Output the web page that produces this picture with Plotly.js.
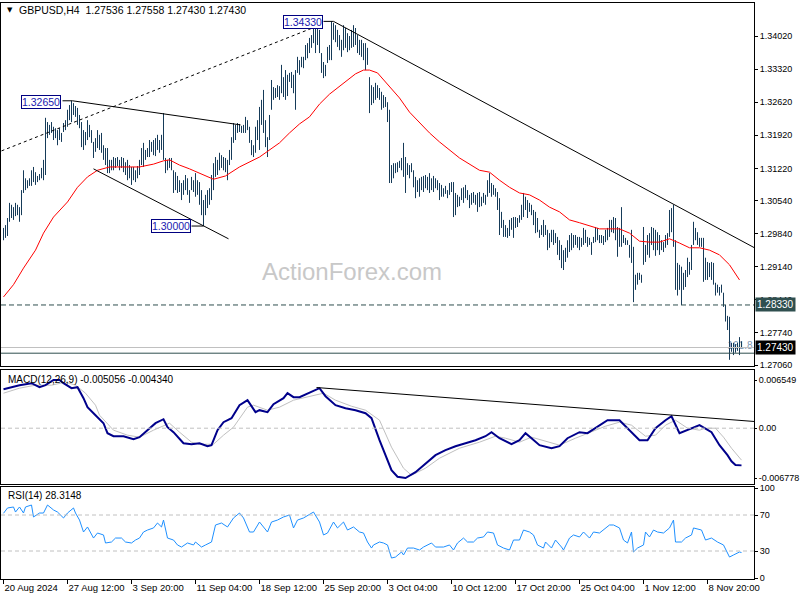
<!DOCTYPE html>
<html><head><meta charset="utf-8">
<script src="https://cdn.plot.ly/plotly-3.0.1.min.js"></script>
<style>html,body{margin:0;padding:0;background:#fff}#chart{width:800px;height:600px}</style>
</head><body><div id="chart"></div>
<script>
// ---- Price bars (H4, one per bar index) ----
const hi = [
1.2996,1.3002,1.3017,1.3049,1.3045,1.3040,1.3049,1.3045,1.3040,1.3076,
1.3118,1.3101,1.3097,1.3101,1.3118,1.3125,1.3114,1.3106,1.3110,1.3123,
1.3140,1.3229,1.3220,1.3214,1.3220,1.3210,1.3207,1.3203,1.3207,1.3197,
1.3218,1.3224,1.3246,1.3256,1.3265,1.3260,1.3254,1.3250,1.3235,1.3220,
1.3203,1.3199,1.3224,1.3214,1.3203,1.3178,1.3186,1.3203,1.3193,1.3197,
1.3171,1.3165,1.3165,1.3140,1.3140,1.3146,1.3144,1.3146,1.3140,1.3146,
1.3144,1.3135,1.3140,1.3129,1.3125,1.3125,1.3118,1.3127,1.3140,1.3165,
1.3176,1.3161,1.3165,1.3182,1.3178,1.3182,1.3186,1.3193,1.3182,1.3193,
1.3239,1.3144,1.3140,1.3144,1.3144,1.3118,1.3114,1.3106,1.3097,1.3091,
1.3097,1.3108,1.3101,1.3076,1.3104,1.3097,1.3112,1.3097,1.3093,1.3076,
1.3055,1.3066,1.3076,1.3080,1.3108,1.3133,1.3146,1.3140,1.3155,1.3150,
1.3146,1.3144,1.3140,1.3161,1.3188,1.3218,1.3214,1.3218,1.3216,1.3212,
1.3214,1.3231,1.3224,1.3210,1.3182,1.3171,1.3210,1.3224,1.3252,1.3267,
1.3288,1.3224,1.3188,1.3235,1.3309,1.3294,1.3292,1.3298,1.3296,1.3341,
1.3315,1.3330,1.3320,1.3324,1.3326,1.3320,1.3330,1.3358,1.3351,1.3358,
1.3358,1.3383,1.3387,1.3398,1.3404,1.3421,1.3425,1.3425,1.3415,1.3366,
1.3347,1.3341,1.3379,1.3383,1.3433,1.3430,1.3425,1.3415,1.3404,1.3394,
1.3425,1.3419,1.3408,1.3402,1.3415,1.3425,1.3419,1.3404,1.3394,1.3394,
1.3387,1.3387,1.3377,1.3315,1.3298,1.3294,1.3303,1.3298,1.3292,1.3284,
1.3277,1.3273,1.3262,1.3246,1.3129,1.3133,1.3133,1.3135,1.3138,1.3144,
1.3176,1.3146,1.3133,1.3129,1.3133,1.3118,1.3104,1.3097,1.3101,1.3104,
1.3106,1.3108,1.3104,1.3112,1.3101,1.3106,1.3101,1.3097,1.3091,1.3087,
1.3080,1.3085,1.3076,1.3091,1.3093,1.3093,1.3070,1.3066,1.3062,1.3080,
1.3082,1.3087,1.3076,1.3066,1.3070,1.3072,1.3066,1.3070,1.3072,1.3062,
1.3070,1.3066,1.3097,1.3112,1.3091,1.3087,1.3080,1.3072,1.3059,1.3030,
1.3013,1.3002,1.2996,1.3013,1.3017,1.3019,1.3019,1.3017,1.3023,1.3045,
1.3070,1.3062,1.3055,1.3049,1.3045,1.3034,1.3030,1.3017,1.2992,1.3002,
1.3013,1.3002,1.2992,1.2985,1.2992,1.2992,1.2985,1.2977,1.2970,1.2960,
1.2949,1.2954,1.2970,1.2981,1.2985,1.2981,1.2981,1.2977,1.2977,1.2975,
1.2996,1.2992,1.2977,1.2975,1.2966,1.2977,1.2998,1.2996,1.2981,1.2981,
1.2979,1.2992,1.2996,1.3013,1.3013,1.3019,1.3017,1.2998,1.2996,1.3040,
1.2981,1.2975,1.2970,1.2960,1.2992,1.2956,1.2897,1.2901,1.2901,1.2897,
1.2998,1.2960,1.2981,1.2985,1.2998,1.2996,1.2992,1.2987,1.2981,1.2970,
1.2966,1.2981,1.2985,1.3034,1.3038,1.3045,1.2970,1.2922,1.2918,1.2914,
1.2901,1.2907,1.2933,1.2924,1.2960,1.3009,1.2996,1.2987,1.2975,1.2975,
1.2975,1.2933,1.2924,1.2922,1.2924,1.2922,1.2880,1.2876,1.2871,1.2876,
1.2859,1.2833,1.2810,1.2808,1.2753,1.2753,1.2750,1.2753,1.2765,1.2756];
const lo = [
1.2970,1.2975,1.2979,1.3009,1.3017,1.3013,1.3021,1.3023,1.3009,1.3023,
1.3070,1.3076,1.3080,1.3085,1.3085,1.3093,1.3087,1.3093,1.3097,1.3101,
1.3097,1.3108,1.3186,1.3193,1.3197,1.3182,1.3186,1.3171,1.3182,1.3178,
1.3199,1.3203,1.3210,1.3224,1.3220,1.3235,1.3231,1.3214,1.3207,1.3167,
1.3161,1.3171,1.3182,1.3188,1.3176,1.3144,1.3157,1.3165,1.3161,1.3155,
1.3140,1.3129,1.3112,1.3112,1.3118,1.3118,1.3123,1.3127,1.3118,1.3123,
1.3114,1.3108,1.3097,1.3101,1.3087,1.3097,1.3093,1.3101,1.3108,1.3129,
1.3125,1.3140,1.3146,1.3146,1.3157,1.3150,1.3148,1.3161,1.3155,1.3161,
1.3140,1.3112,1.3118,1.3123,1.3118,1.3070,1.3076,1.3070,1.3072,1.3055,
1.3066,1.3076,1.3066,1.3049,1.3076,1.3072,1.3062,1.3066,1.3045,1.3023,
1.3000,1.3023,1.3038,1.3045,1.3055,1.3076,1.3104,1.3108,1.3118,1.3123,
1.3118,1.3114,1.3097,1.3129,1.3140,1.3176,1.3182,1.3197,1.3199,1.3197,
1.3197,1.3197,1.3203,1.3176,1.3150,1.3146,1.3155,1.3182,1.3161,1.3214,
1.3197,1.3167,1.3146,1.3182,1.3246,1.3267,1.3271,1.3273,1.3267,1.3281,
1.3273,1.3267,1.3275,1.3305,1.3292,1.3281,1.3246,1.3324,1.3320,1.3336,
1.3334,1.3351,1.3355,1.3366,1.3377,1.3387,1.3366,1.3383,1.3366,1.3324,
1.3313,1.3317,1.3345,1.3351,1.3351,1.3394,1.3389,1.3379,1.3372,1.3358,
1.3372,1.3377,1.3368,1.3372,1.3377,1.3379,1.3383,1.3366,1.3362,1.3358,
1.3351,1.3330,1.3341,1.3239,1.3256,1.3260,1.3267,1.3271,1.3267,1.3246,
1.3250,1.3252,1.3220,1.3091,1.3091,1.3101,1.3112,1.3114,1.3123,1.3118,
1.3104,1.3070,1.3108,1.3101,1.3114,1.3082,1.3059,1.3072,1.3062,1.3076,
1.3072,1.3080,1.3076,1.3070,1.3076,1.3072,1.3080,1.3076,1.3055,1.3062,
1.3062,1.3068,1.3059,1.3066,1.3072,1.3019,1.3023,1.3040,1.3042,1.3055,
1.3049,1.3059,1.3055,1.3038,1.3045,1.3049,1.3045,1.3030,1.3040,1.3042,
1.3049,1.3045,1.3062,1.3070,1.3062,1.3066,1.3062,1.3034,1.2981,1.2996,
1.2977,1.2977,1.2975,1.2979,1.2992,1.2975,1.2996,1.2998,1.3007,1.3013,
1.3019,1.3034,1.3017,1.3030,1.3023,1.3002,1.2985,1.2987,1.2975,1.2981,
1.2977,1.2981,1.2949,1.2954,1.2966,1.2960,1.2964,1.2939,1.2928,1.2911,
1.2907,1.2924,1.2933,1.2945,1.2949,1.2954,1.2960,1.2954,1.2949,1.2956,
1.2960,1.2964,1.2956,1.2960,1.2939,1.2964,1.2966,1.2970,1.2964,1.2964,
1.2960,1.2966,1.2970,1.2977,1.2987,1.2985,1.2970,1.2935,1.2956,1.2956,
1.2964,1.2960,1.2960,1.2933,1.2922,1.2839,1.2865,1.2876,1.2886,1.2880,
1.2918,1.2924,1.2939,1.2933,1.2960,1.2949,1.2937,1.2949,1.2939,1.2949,
1.2945,1.2954,1.2960,1.2977,1.2987,1.2956,1.2865,1.2853,1.2865,1.2833,
1.2865,1.2871,1.2892,1.2897,1.2907,1.2960,1.2970,1.2960,1.2956,1.2956,
1.2882,1.2886,1.2886,1.2892,1.2886,1.2876,1.2853,1.2859,1.2853,1.2859,
1.2829,1.2798,1.2780,1.2717,1.2734,1.2727,1.2732,1.2736,1.2727,1.2743];

// ---- Moving average (red) [barIndex, value] ----
const maPts = [[0,1.2850],[5,1.2876],[10,1.2911],[16,1.2949],[20,1.2985],[25,1.3019],[32,1.3051],[37,1.3082],[42,1.3104],[47,1.3118],
[53,1.3125],[60,1.3125],[68,1.3125],[75,1.3131],[80,1.3138],[83,1.3140],[88,1.3129],[93,1.3121],[98,1.3112],[105,1.3099],
[111,1.3106],[118,1.3125],[128,1.3146],[138,1.3176],[143,1.3197],[148,1.3216],[153,1.3231],[158,1.3258],[163,1.3279],[171,1.3305],
[176,1.3322],[180,1.3330],[183,1.3330],[187,1.3324],[193,1.3294],[198,1.3271],[203,1.3241],[208,1.3218],[213,1.3197],[218,1.3178],
[228,1.3144],[238,1.3118],[243,1.3114],[248,1.3097],[253,1.3082],[258,1.3070],[263,1.3066],[268,1.3055],[273,1.3040],[278,1.3030],
[283,1.3013],[288,1.3007],[298,1.2994],[308,1.2994],[313,1.2985],[318,1.2968],[323,1.2966],[328,1.2966],[333,1.2973],[338,1.2964],
[343,1.2954],[348,1.2954],[353,1.2949],[358,1.2939],[363,1.2918],[368,1.2886]];

// ---- MACD(12,26,9) main line and signal [barIndex, value] ----
const macdPts = [[0,0.00530],[4,0.00558],[8,0.00585],[14,0.00612],[18,0.00558],[21,0.00585],[25,0.00655],[28,0.00655],[30,0.00612],[34,0.00544],
[37,0.00558],[40,0.00408],[42,0.00286],[46,0.00177],[50,0.00068],[52,-0.00068],[55,-0.00109],[60,-0.00109],[65,-0.00150],[68,-0.00122],
[72,-0.00027],[76,0.00068],[80,0.00122],[82,0.00014],[85,-0.00054],[90,-0.00204],[94,-0.00218],[98,-0.00204],[102,-0.00245],[104,-0.00231],
[107,-0.00027],[110,0.00082],[114,0.00136],[118,0.00313],[122,0.00381],[126,0.00218],[128,0.00245],[132,0.00218],[135,0.00326],[140,0.00408],
[142,0.00476],[145,0.00422],[148,0.00422],[154,0.00490],[158,0.00544],[161,0.00435],[166,0.00313],[171,0.00272],[176,0.00245],[181,0.00204],
[184,0.00136],[188,-0.00163],[194,-0.00571],[197,-0.00660],[201,-0.00678],[206,-0.00598],[211,-0.00476],[216,-0.00367],[221,-0.00299],[226,-0.00245],
[231,-0.00204],[236,-0.00163],[241,-0.00109],[244,-0.00054],[248,-0.00136],[254,-0.00218],[258,-0.00163],[261,-0.00068],[264,-0.00136],[268,-0.00231],
[274,-0.00272],[278,-0.00245],[282,-0.00136],[288,-0.00054],[292,-0.00068],[298,0.00041],[302,0.00109],[308,0.00109],[312,0.00000],[318,-0.00163],
[322,-0.00163],[326,0.00000],[331,0.00109],[334,0.00163],[338,-0.00068],[344,0.00000],[348,0.00041],[354,-0.00054],[358,-0.00231],[362,-0.00367],
[364,-0.00450],[366,-0.00500],[369,-0.005056]];
const signalPts = [[0,0.00476],[8,0.00544],[16,0.00585],[24,0.00585],[31,0.00626],[36,0.00585],[41,0.00476],[46,0.00313],[48,0.00177],[55,-0.00027],
[62,-0.00095],[68,-0.00122],[75,-0.00027],[83,0.00068],[88,-0.00054],[94,-0.00190],[98,-0.00218],[105,-0.00218],[110,-0.00095],[115,0.00014],
[122,0.00286],[125,0.00313],[132,0.00245],[138,0.00286],[145,0.00381],[154,0.00435],[160,0.00476],[166,0.00381],[174,0.00299],[181,0.00245],
[188,0.00109],[194,-0.00258],[200,-0.00544],[204,-0.00639],[211,-0.00544],[218,-0.00408],[228,-0.00272],[238,-0.00190],[246,-0.00109],[251,-0.00136],
[258,-0.00190],[264,-0.00122],[272,-0.00190],[278,-0.00231],[286,-0.00136],[294,-0.00054],[301,0.00027],[308,0.00082],[314,0.00041],[321,-0.00109],
[326,-0.00095],[331,0.00041],[336,0.00109],[342,0.00000],[348,-0.00027],[351,0.00000],[356,0.00000],[360,-0.00122],[364,-0.00272],[369,-0.00434]];

// ---- RSI(14) [barIndex, value] ----
const rsiPts = [[0,71.9],[2,77.8],[5,78.9],[6,73.3],[8,78.9],[10,72.2],[11,78.9],[14,81.1],[15,67.8],[18,72.2],[20,72.2],[22,81.1],[25,75.6],[27,73.3],[30,66.7],
[32,72.2],[35,77.8],[36,72.2],[38,64.4],[40,51.1],[42,56.7],[45,44.4],[47,50.0],[50,47.8],[51,38.9],[54,40.0],[56,44.4],[59,44.4],[61,40.0],[64,38.9],
[66,42.2],[68,44.4],[70,51.1],[72,53.3],[75,55.6],[77,61.1],[79,56.7],[80,64.4],[82,44.4],[85,42.2],[87,36.7],[89,34.4],[92,38.9],[95,36.7],[96,40.0],
[99,34.4],[101,36.7],[104,40.0],[106,58.9],[109,61.1],[112,56.7],[115,66.7],[118,72.2],[120,66.7],[123,51.1],[125,51.1],[128,62.2],[130,56.7],[132,51.1],[134,62.2],
[137,64.4],[140,67.8],[143,70.0],[145,55.6],[147,64.4],[150,66.7],[154,72.2],[155,73.3],[158,62.2],[160,47.8],[162,50.0],[165,62.2],[167,55.6],[170,62.2],[172,53.3],
[175,56.7],[178,51.1],[180,50.0],[182,40.0],[184,33.3],[185,36.7],[188,40.0],[190,38.9],[192,36.7],[194,22.2],[196,23.3],[199,28.9],[200,25.6],[202,33.3],[205,33.3],
[208,31.1],[210,34.4],[214,38.9],[216,34.4],[220,34.4],[223,36.7],[225,31.1],[227,38.9],[230,44.4],[232,40.0],[235,40.0],[237,44.4],[240,45.6],[242,51.1],[245,50.0],
[247,36.7],[250,33.3],[253,31.1],[255,42.2],[258,42.2],[260,53.3],[263,51.1],[265,47.8],[267,36.7],[270,33.3],[271,40.0],[274,33.3],[276,42.2],[279,34.4],[280,31.1],
[283,44.4],[285,47.8],[288,45.6],[290,51.1],[293,44.4],[295,51.1],[298,50.0],[300,53.3],[303,58.9],[305,58.9],[308,55.6],[310,42.2],[312,38.9],[314,51.1],[315,28.9],
[317,33.3],[320,36.7],[321,51.1],[323,45.6],[325,53.3],[327,51.1],[330,50.0],[333,55.6],[335,64.4],[336,40.0],[339,40.0],[341,44.4],[344,47.8],[345,55.6],[349,53.3],
[351,42.2],[354,44.4],[357,40.0],[360,36.7],[363,23.3],[365,25.6],[368,28.9],[369,28.3148]];

// ---- Axis ticks ----
const timeTickIdx = [0,32,64,96,128,160,192,224,256,288,320,352];
const timeTickText = ["20 Aug 2024","27 Aug 12:00","3 Sep 20:00","11 Sep 04:00","18 Sep 12:00","25 Sep 20:00","3 Oct 04:00","10 Oct 12:00","17 Oct 20:00","25 Oct 04:00","1 Nov 12:00","8 Nov 20:00"];
const priceTicks = [1.3402,1.3332,1.3262,1.3192,1.3122,1.3054,1.2984,1.2914,1.2844,1.2774,1.2706];
const macdTicks = [0.006549,0,-0.006778];
const macdTickText = ["0.006549","0.00","-0.006778"];
const rsiTicks = [100,70,30,0];

// ---- Drawn objects ----
const dottedLine = [[-1,1.3159],[154.5,1.3419]];
const wedgeUpper = [[34.5,1.3265],[118.5,1.3214]];
const wedgeLower = [[45,1.3121],[112.5,1.2973]];
const downTrend = [[165,1.3433],[375.5,1.2954]];
const macdTrend = [[156.5,0.00553],[375.5,0.00091]];
const markedLevels = {high1:1.32650, high2:1.34330, low1:1.30000};
const supportLevel = 1.28330, bidLevel = 1.27430, projLevel = 1.2731;

const FONT = 'Liberation Sans, Arial, sans-serif';
const barColor = '#163b59';

const bx = [], by = [];
hi.forEach((h, i) => { bx.push(i, i, null); by.push(lo[i], h, null); });

const traces = [
  {type:'scatter', mode:'text', x:[374.5], y:[bidLevel+0.0002], text:['161.8'], textposition:'middle left',
   textfont:{family:FONT, size:10, color:'#8098b4'}, xaxis:'x', yaxis:'y', hoverinfo:'skip'},
  {type:'scatter', mode:'lines', x:bx, y:by, xaxis:'x', yaxis:'y', line:{color:barColor, width:1}, hoverinfo:'skip'},
  {type:'scatter', mode:'lines', x:maPts.map(p=>p[0]), y:maPts.map(p=>p[1]), xaxis:'x', yaxis:'y', line:{color:'#ff0000', width:1}},
  {type:'scatter', mode:'lines', x:signalPts.map(p=>p[0]), y:signalPts.map(p=>p[1]), xaxis:'x2', yaxis:'y2', line:{color:'#c0c0c0', width:1}},
  {type:'scatter', mode:'lines', x:macdPts.map(p=>p[0]), y:macdPts.map(p=>p[1]), xaxis:'x2', yaxis:'y2', line:{color:'#00008b', width:2}},
  {type:'scatter', mode:'lines', x:rsiPts.map(p=>p[0]), y:rsiPts.map(p=>p[1]), xaxis:'x3', yaxis:'y3', line:{color:'#1e90ff', width:1}}
];

const xr = [-1.25, 375.25];
const baseX = {range:xr, showline:true, mirror:true, linecolor:'#000', linewidth:1, showgrid:false, zeroline:false, fixedrange:true};
const baseY = {side:'right', showline:true, mirror:true, linecolor:'#000', linewidth:1, showgrid:false, zeroline:false,
  ticks:'outside', ticklen:3, tickcolor:'#000', tickfont:{family:FONT, size:9, color:'#000'}, fixedrange:true};

function seg(p, q, xref, yref, color, dash, width) {
  return {type:'line', xref:xref, yref:yref, x0:p[0], y0:p[1], x1:q[0], y1:q[1], line:{color:color, width:width||1, dash:dash||'solid'}};
}
function hline(y, yref, color, dash) {
  return {type:'line', xref:'x domain', yref:yref, x0:0, x1:1, y0:y, y1:y, line:{color:color, width:1, dash:dash||'solid'}};
}

const shapes = [
  hline(bidLevel, 'y', '#c0c0c0'),
  hline(projLevel, 'y', '#2f4f4f'),
  hline(supportLevel, 'y', '#2f4f4f', '5px,3px'),
  seg(dottedLine[0], dottedLine[1], 'x', 'y', '#000', '3px,3px'),
  seg([29.5, markedLevels.high1], wedgeUpper[0], 'x', 'y', '#000'),
  seg(wedgeUpper[0], wedgeUpper[1], 'x', 'y', '#000'),
  seg(wedgeLower[0], wedgeLower[1], 'x', 'y', '#000'),
  seg([94, markedLevels.low1], [100, markedLevels.low1], 'x', 'y', '#000'),
  seg([160, markedLevels.high2], downTrend[0], 'x', 'y', '#000'),
  seg(downTrend[0], downTrend[1], 'x', 'y', '#000'),
  hline(0, 'y2', '#c0c0c0', '4px,3px'),
  seg(macdTrend[0], macdTrend[1], 'x2', 'y2', '#000'),
  hline(70, 'y3', '#c0c0c0', '4px,3px'),
  hline(30, 'y3', '#c0c0c0', '4px,3px')
];

function boxLabel(x, y, v) {
  return {xref:'x', yref:'y', x:x, y:y, text:v.toFixed(5), showarrow:false, xanchor:'center', yanchor:'middle',
    font:{family:FONT, size:10.5, color:'#2020b0'}, bgcolor:'#fff', bordercolor:'#000080', borderwidth:1, borderpad:0};
}
function axisTag(y, bg) {
  return {xref:'paper', yref:'y', x:1, xshift:1, y:y, text:y.toFixed(5), showarrow:false, xanchor:'left', yanchor:'middle',
    font:{family:FONT, size:10, color:'#fff'}, bgcolor:bg, borderpad:1};
}

const annotations = [
  boxLabel(18.75, 1.32624, markedLevels.high1),
  boxLabel(149.5, 1.34317, markedLevels.high2),
  boxLabel(83.5, 1.29991, markedLevels.low1),
  axisTag(supportLevel, '#2f4f4f'),
  axisTag(bidLevel, '#000'),
  {xref:'paper', yref:'paper', x:0.0055, y:0.9878, text:'▼', showarrow:false, xanchor:'left', yanchor:'middle',
    font:{family:'DejaVu Sans', size:7, color:'#000'}},
  {xref:'paper', yref:'paper', x:0.0215, y:0.9878, text:'GBPUSD,H4  1.27536 1.27558 1.27430 1.27430', showarrow:false,
    xanchor:'left', yanchor:'middle', font:{family:FONT, size:10.5, color:'#000'}},
  {xref:'paper', yref:'paper', x:0.007, y:0.3455, text:'MACD(12,26,9) -0.005056 -0.004340', showarrow:false,
    xanchor:'left', yanchor:'middle', font:{family:FONT, size:10, color:'#000'}},
  {xref:'paper', yref:'paper', x:0.007, y:0.1441, text:'RSI(14) 28.3148', showarrow:false,
    xanchor:'left', yanchor:'middle', font:{family:FONT, size:10, color:'#000'}},
  {xref:'paper', yref:'paper', x:0.466, y:0.533, text:'ActionForex.com', showarrow:false,
    xanchor:'center', yanchor:'middle', font:{family:FONT, size:24, color:'#c8c8c8'}}
];

const layout = {
  width:800, height:600, margin:{l:1, r:46, t:3, b:21}, showlegend:false,
  paper_bgcolor:'#fff', plot_bgcolor:'#fff', font:{family:FONT, size:9, color:'#000'},
  xaxis:Object.assign({}, baseX, {anchor:'y', showticklabels:false, ticks:''}),
  xaxis2:Object.assign({}, baseX, {anchor:'y2', matches:'x', showticklabels:false, ticks:''}),
  xaxis3:Object.assign({}, baseX, {anchor:'y3', matches:'x', tickmode:'array', tickvals:timeTickIdx, ticktext:timeTickText,
    tickangle:0, ticks:'outside', ticklen:4, tickcolor:'#000', ticklabelposition:'outside right',
    tickfont:{family:FONT, size:9.5, color:'#000'}}),
  yaxis:Object.assign({}, baseY, {domain:[0.3698,1], range:[1.27039,1.34719], tickmode:'array', tickvals:priceTicks,
    ticktext:priceTicks.map(v=>v.toFixed(5)), anchor:'x'}),
  yaxis2:Object.assign({}, baseY, {domain:[0.1649,0.3628], range:[-0.00759,0.00791], tickmode:'array', tickvals:macdTicks,
    ticktext:macdTickText, anchor:'x2', ticklen:2}),
  yaxis3:Object.assign({}, baseY, {domain:[0,0.1597], range:[-1.1,101.1], tickmode:'array', tickvals:rsiTicks,
    ticktext:rsiTicks.map(String), anchor:'x3'}),
  shapes:shapes, annotations:annotations
};

Plotly.newPlot('chart', traces, layout, {staticPlot:true, displayModeBar:false});
</script></body></html>
